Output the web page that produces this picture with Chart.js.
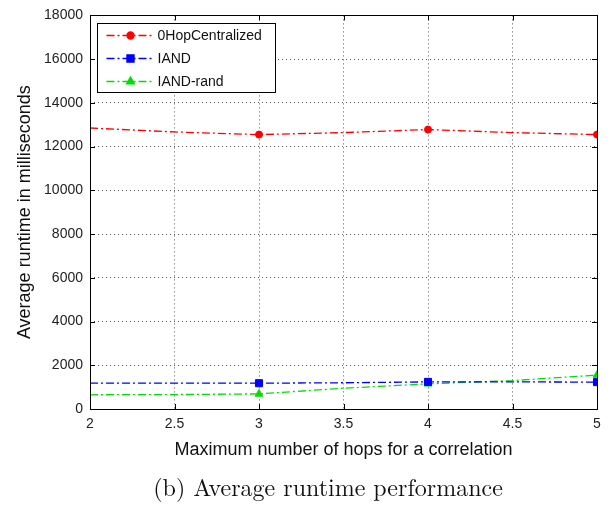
<!DOCTYPE html>
<html>
<head>
<meta charset="utf-8">
<script src="https://cdn.jsdelivr.net/npm/chart.js@4/dist/chart.umd.min.js"></script>
<style>
  html, body { margin: 0; padding: 0; background: #fff; }
  #wrap { width: 611px; height: 508px; }
</style>
</head>
<body>
<div id="wrap"><canvas id="c" width="611" height="508"></canvas></div>
<script>
// Maximum number of hops (x positions sampled along each curve)
const hops = [2, 2.5, 3, 3.5, 4, 4.5, 5];
// Average runtime in milliseconds
const zeroHopCentralized = [12850, 12670, 12550, 12640, 12780, 12640, 12550];
const iand = [1180, 1180, 1180, 1200, 1240, 1240, 1230];
const iandRand = [650, 660, 690, 950, 1150, 1300, 1550];
// Axis ticks
const xTicks = [2, 2.5, 3, 3.5, 4, 4.5, 5];
const yTicks = [0, 2000, 4000, 6000, 8000, 10000, 12000, 14000, 16000, 18000];
const seriesNames = ['0HopCentralized', 'IAND', 'IAND-rand'];
const caption = '(b) Average runtime performance';

const toPoints = (ys) => hops.map((x, i) => ({ x, y: ys[i] }));
// markers only at whole hop counts above the first one
const markerAt = (r) => (ctx) => {
  const x = ctx.raw && ctx.raw.x;
  return (Number.isInteger(x) && x > 2) ? r : 0;
};
const dashDot = [8, 3, 2, 3];
const markerSize = { circle: 3.5, rect: 5, triangle: 4.5 };

function ds(label, values, color, style) {
  return {
    label, data: toPoints(values),
    borderColor: color, backgroundColor: color,
    borderWidth: 1.3, borderDash: dashDot,
    pointStyle: style, pointRadius: markerAt(markerSize[style]),
    pointHoverRadius: markerAt(markerSize[style]),
    pointBorderWidth: 1, tension: 0, clip: 0
  };
}

const datasets = [
  ds(seriesNames[0], zeroHopCentralized, '#ff0000', 'circle'),
  ds(seriesNames[1], iand, '#0000ff', 'rect'),
  ds(seriesNames[2], iandRand, '#00e000', 'triangle')
];

// Box, inward ticks, legend box in the upper left, and the caption
const framePlugin = {
  id: 'frame',
  afterDraw(chart) {
    const { ctx, chartArea: a, scales } = chart;
    ctx.save();
    ctx.strokeStyle = '#000';
    ctx.lineWidth = 1;
    ctx.setLineDash([]);
    ctx.strokeRect(Math.round(a.left) + 0.5, Math.round(a.top) + 0.5,
      Math.round(a.right - a.left), Math.round(a.bottom - a.top));
    const t = 5;
    xTicks.forEach(v => {
      const px = Math.round(scales.x.getPixelForValue(v)) + 0.5;
      ctx.beginPath();
      ctx.moveTo(px, a.bottom); ctx.lineTo(px, a.bottom - t);
      ctx.moveTo(px, a.top); ctx.lineTo(px, a.top + t);
      ctx.stroke();
    });
    yTicks.forEach(v => {
      const py = Math.round(scales.y.getPixelForValue(v)) + 0.5;
      ctx.beginPath();
      ctx.moveTo(a.left, py); ctx.lineTo(a.left + t, py);
      ctx.moveTo(a.right, py); ctx.lineTo(a.right - t, py);
      ctx.stroke();
    });

    // legend
    const bx = Math.round(a.left) + 7.5, by = Math.round(a.top) + 8.5;
    const bw = 178, bh = 69;
    ctx.fillStyle = '#fff';
    ctx.fillRect(bx, by, bw, bh);
    ctx.strokeStyle = '#000';
    ctx.strokeRect(bx, by, bw, bh);
    ctx.font = '14px "Liberation Sans", Arial, sans-serif';
    ctx.textBaseline = 'middle';
    chart.data.datasets.forEach((d, i) => {
      const ry = by + 12 + i * 23;
      ctx.strokeStyle = d.borderColor;
      ctx.lineWidth = 1.3;
      ctx.setLineDash(dashDot);
      ctx.beginPath();
      ctx.moveTo(bx + 9, ry); ctx.lineTo(bx + 56, ry);
      ctx.stroke();
      ctx.setLineDash([]);
      Chart.helpers.drawPoint(ctx, {
        pointStyle: d.pointStyle, radius: markerSize[d.pointStyle], rotation: 0, borderWidth: 1
      }, bx + 33, ry);
      ctx.fillStyle = d.borderColor;
      ctx.fill();
      ctx.fillStyle = '#111';
      ctx.fillText(d.label, bx + 60, ry + 1);
    });

    // caption under the figure
    ctx.font = '24px "Latin Modern Roman", "CMU Serif", "Liberation Serif", serif';
    ctx.fillStyle = '#111';
    ctx.textAlign = 'center';
    ctx.textBaseline = 'middle';
    ctx.fillText(caption, 328, 489);
    ctx.restore();
  }
};

const tickFont = { family: '"Liberation Sans", Arial, sans-serif', size: 14 };

new Chart(document.getElementById('c'), {
  type: 'line',
  data: { datasets },
  options: {
    responsive: false,
    animation: false,
    events: [],
    layout: { padding: { left: 0, right: 14, top: 15, bottom: 47 } },
    plugins: {
      legend: { display: false },
      tooltip: { enabled: false },
      title: { display: false }
    },
    scales: {
      x: {
        type: 'linear', min: 2, max: 5,
        afterBuildTicks: (s) => { s.ticks = xTicks.map(v => ({ value: v })); },
        afterFit: (s) => { s.height = 52; },
        ticks: { color: '#222', font: tickFont, padding: 7, maxRotation: 0,
                 callback: (v) => String(v) },
        grid: { color: '#555', lineWidth: 1, drawTicks: false },
        border: { display: false, dash: [1, 3] },
        title: { display: true, text: 'Maximum number of hops for a correlation',
                 color: '#111', font: { family: '"Liberation Sans", Arial, sans-serif', size: 18 },
                 padding: { top: 0, bottom: 0 } }
      },
      y: {
        type: 'linear', min: 0, max: 18000,
        afterBuildTicks: (s) => { s.ticks = yTicks.map(v => ({ value: v })); },
        afterFit: (s) => { s.width = 90; },
        ticks: { color: '#222', font: tickFont, padding: 7, callback: (v) => String(v) },
        grid: { color: '#555', lineWidth: 1, drawTicks: false },
        border: { display: false, dash: [1, 3] },
        title: { display: true, text: 'Average runtime in milliseconds',
                 color: '#111', font: { family: '"Liberation Sans", Arial, sans-serif', size: 18 },
                 padding: { top: 14, bottom: 0 } }
      }
    }
  },
  plugins: [framePlugin]
});
</script>
</body>
</html>
